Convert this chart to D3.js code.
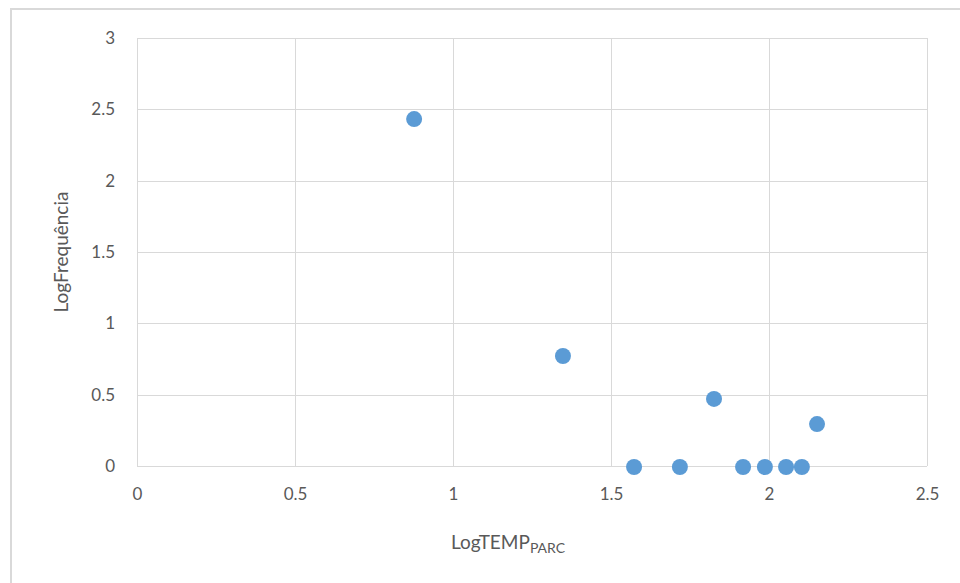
<!DOCTYPE html>
<html>
<head>
<meta charset="utf-8">
<script src="https://cdn.jsdelivr.net/npm/d3@7"></script>
<style>
  body { margin: 0; background: #fff; }
  .tick text { font-family: Lato, "Open Sans", sans-serif; font-size: 17px; fill: #595959; }
  .axisTitle { font-family: Lato, "Open Sans", sans-serif; font-size: 19px; fill: #595959; }
</style>
</head>
<body>
<div id="chart"></div>
<script>
// scatter of LogTEMP_PARC vs LogFrequência
var logTemp = [0.877, 1.348, 1.573, 1.718, 1.826, 1.918, 1.987, 2.054, 2.104, 2.152];
var logFreq = [2.439, 0.778, 0, 0, 0.477, 0, 0, 0, 0, 0.301];
var xTicks = [0, 0.5, 1, 1.5, 2, 2.5];
var yTicks = [0, 0.5, 1, 1.5, 2, 2.5, 3];

var W = 960, H = 583;
var margin = {top: 38, right: 33, bottom: 117, left: 137};
var width = W - margin.left - margin.right,
    height = H - margin.top - margin.bottom;

var svg = d3.select("#chart").append("svg")
    .attr("width", W)
    .attr("height", H);

// outer frame (only top and left visible in the crop)
svg.append("path")
    .attr("d", "M11,583 L11,9 L960,9")
    .attr("fill", "none")
    .attr("stroke", "#d9d9d9")
    .attr("stroke-width", 2);

var g = svg.append("g")
    .attr("transform", "translate(" + margin.left + "," + margin.top + ")");

var x = d3.scaleLinear().domain([0, 2.5]).range([0, width]);
var y = d3.scaleLinear().domain([0, 3]).range([height, 0]);

var fmt = function(d){ return String(d); };

// gridlines
g.append("g")
    .selectAll("line.vg")
    .data(xTicks)
    .enter().append("line")
    .attr("x1", function(d){ return Math.round(x(d)) + 0.5; })
    .attr("x2", function(d){ return Math.round(x(d)) + 0.5; })
    .attr("y1", 0)
    .attr("y2", height)
    .attr("stroke", "#d9d9d9");

g.append("g")
    .selectAll("line.hg")
    .data(yTicks)
    .enter().append("line")
    .attr("x1", 0)
    .attr("x2", width)
    .attr("y1", function(d){ return Math.round(y(d)) + 0.5; })
    .attr("y2", function(d){ return Math.round(y(d)) + 0.5; })
    .attr("stroke", "#d9d9d9");

var xAxis = g.append("g")
    .attr("transform", "translate(0," + height + ")")
    .call(d3.axisBottom(x).tickValues(xTicks).tickFormat(fmt).tickSize(0).tickPadding(22));
xAxis.select(".domain").remove();

var yAxis = g.append("g")
    .call(d3.axisLeft(y).tickValues(yTicks).tickFormat(fmt).tickSize(0).tickPadding(22));
yAxis.select(".domain").remove();

// points
g.selectAll("circle.pt")
    .data(logTemp)
    .enter().append("circle")
    .attr("class", "pt")
    .attr("cx", function(d){ return x(d); })
    .attr("cy", function(d, i){ return y(logFreq[i]) + 1; })
    .attr("r", 8)
    .attr("fill", "#5b9bd5");

// axis titles
var xt = svg.append("text")
    .attr("class", "axisTitle")
    .attr("x", 508)
    .attr("y", 549)
    .attr("text-anchor", "middle");
xt.append("tspan").text("LogTEMP");
xt.append("tspan").attr("dy", 4).style("font-size", "14px").text("PARC");

svg.append("text")
    .attr("class", "axisTitle")
    .attr("transform", "translate(68," + (margin.top + height / 2) + ") rotate(-90)")
    .attr("text-anchor", "middle")
    .text("LogFrequência");
</script>
</body>
</html>
